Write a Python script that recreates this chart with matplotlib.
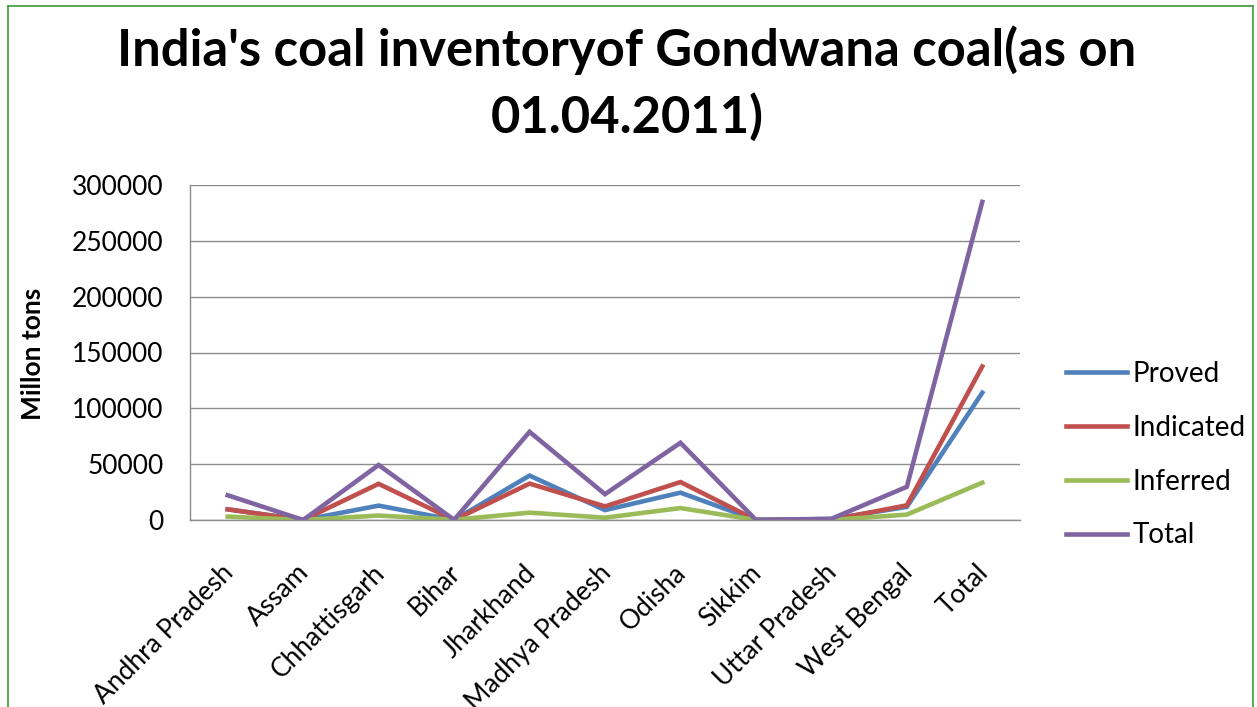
import matplotlib
matplotlib.use("Agg")
import matplotlib.pyplot as plt
from matplotlib.lines import Line2D
from matplotlib import transforms

plt.rcParams['font.family'] = ['Lato', 'DejaVu Sans']

states = ["Andhra Pradesh", "Assam", "Chhattisgarh", "Bihar", "Jharkhand",
          "Madhya Pradesh", "Odisha", "Sikkim", "Uttar Pradesh", "West Bengal", "Total"]
proved = [9566, 0, 12878, 0, 39761, 8871, 24492, 0, 884, 11753, 114002]
indicated = [9554, 0, 32390, 0, 32592, 12192, 33987, 58, 178, 13131, 137471]
inferred = [3034, 0, 4010, 160, 6584, 2063, 10680, 43, 0, 4832, 33390]
total = [22154, 0, 49279, 160, 78937, 23126, 69159, 101, 1062, 29716, 284862]

series = [("Proved", proved, "#4F81BD"),
          ("Indicated", indicated, "#C0504D"),
          ("Inferred", inferred, "#9BBB59"),
          ("Total", total, "#8064A2")]

W, H = 1257, 707
fig = plt.figure(figsize=(W / 100, H / 100), dpi=100)

# green chart-area frame (open at the bottom)
frame_col = "#3A9A3A"
fig.add_artist(Line2D([8 / W, 8 / W], [0, 1 - 6 / H], color=frame_col, lw=1.2))
fig.add_artist(Line2D([8 / W, 1253 / W], [1 - 6 / H, 1 - 6 / H], color=frame_col, lw=1.2))
fig.add_artist(Line2D([1253 / W, 1253 / W], [0, 1 - 6 / H], color=frame_col, lw=1.2))

ax = fig.add_axes([190 / W, 1 - 520 / H, (1020 - 190) / W, (520 - 185) / H])
x = list(range(len(states)))
for name, vals, col in series:
    ax.plot(x, vals, color=col, lw=3.3, label=name, solid_joinstyle='miter')

ax.set_xlim(-0.5, len(states) - 0.5)
ax.set_ylim(0, 300000)
ax.set_yticks(range(0, 300001, 50000))
ax.set_yticklabels([str(v) for v in range(0, 300001, 50000)])
ax.yaxis.grid(True, color="#8C8C8C", lw=1.0)
ax.set_axisbelow(True)
for s in ["top", "right"]:
    ax.spines[s].set_visible(False)
for s in ["left", "bottom"]:
    ax.spines[s].set_color("#8C8C8C")
    ax.spines[s].set_linewidth(1.0)
ax.tick_params(axis='y', length=0, pad=19, labelsize=19)
ax.tick_params(axis='x', length=0, labelsize=19)

ax.set_xticks(x)
labels = ax.set_xticklabels(states, rotation=45, ha='right', va='top',
                            rotation_mode='anchor')
offset = transforms.ScaledTranslation(-7 / 100, -35 / 100, fig.dpi_scale_trans)
for lab in labels:
    lab.set_transform(lab.get_transform() + offset)

fig.text(33 / W, 1 - 354 / H, "Millon tons", rotation=90, ha='center', va='center',
         fontsize=19, fontweight='bold')

fig.text(627 / W, 1 - 50 / H, "India's coal inventoryof Gondwana coal(as on",
         ha='center', va='center', fontsize=36.5, fontweight='bold')
fig.text(627 / W, 1 - 117 / H, "01.04.2011)",
         ha='center', va='center', fontsize=36.5, fontweight='bold')

leg = fig.legend(loc='upper left', bbox_to_anchor=(1041 / W, 1 - 336 / H),
                 frameon=False, fontsize=20, handlelength=2.2, handletextpad=0.2,
                 labelspacing=1.0)

fig.savefig("out.png", dpi=100)
